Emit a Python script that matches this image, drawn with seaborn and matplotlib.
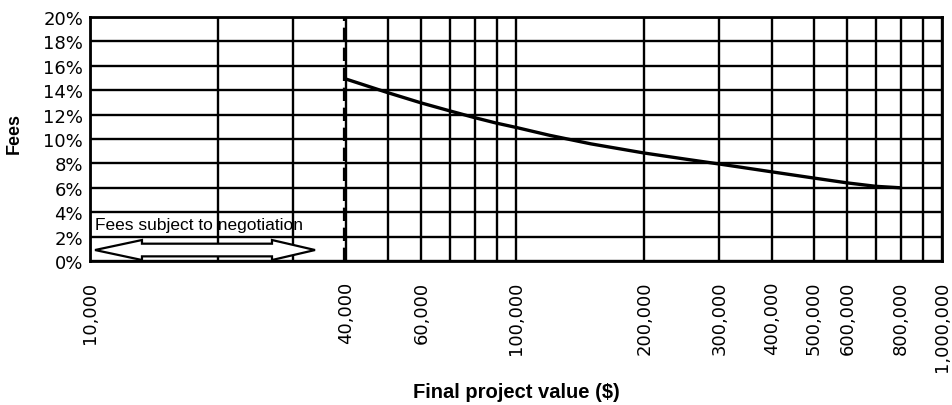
import numpy as np
import pandas as pd
import matplotlib
matplotlib.use("Agg")
import matplotlib.pyplot as plt
import matplotlib.patches as mpatches
from matplotlib.ticker import FixedLocator, FixedFormatter, NullFormatter
import seaborn as sns

# ---- data ----
project_value = [40000, 50000, 60000, 70000, 80000, 90000, 100000, 120000, 150000,
                 200000, 250000, 300000, 400000, 500000, 600000, 700000, 800000]
fee_pct = [14.9, 13.8, 12.95, 12.3, 11.75, 11.3, 10.95, 10.3, 9.6,
           8.85, 8.35, 7.95, 7.3, 6.8, 6.4, 6.12, 6.0]

x_tick_values = [10000, 40000, 60000, 100000, 200000, 300000, 400000,
                 500000, 600000, 800000, 1000000]
x_tick_labels = ["10,000", "40,000", "60,000", "100,000", "200,000", "300,000",
                 "400,000", "500,000", "600,000", "800,000", "1,000,000"]
x_grid_values = [20000, 30000, 40000, 50000, 60000, 70000, 80000, 90000,
                 200000, 300000, 400000, 500000, 600000, 700000, 800000, 900000]
y_tick_values = [0, 2, 4, 6, 8, 10, 12, 14, 16, 18, 20]
y_tick_labels = [f"{v}%" for v in y_tick_values]
negotiation_limit = 39400  # dashed boundary, drawn just left of 40,000
annotation_text = "Fees subject to negotiation"

df = pd.DataFrame({"value": project_value, "fee": fee_pct})

sns.set_style("white")
plt.rcParams["font.family"] = ["Liberation Sans", "DejaVu Sans"]
plt.rcParams["text.color"] = "black"
plt.rcParams["axes.labelcolor"] = "black"
plt.rcParams["xtick.color"] = "black"
plt.rcParams["ytick.color"] = "black"

fig = plt.figure(figsize=(9.53, 4.06), dpi=100)
ax = fig.add_axes([90 / 953, 1 - 262 / 406, 852 / 953, 244 / 406])

ax.set_xscale("log")
ax.set_xlim(10000, 1000000)
ax.set_ylim(0, 20)

# grid
ax.xaxis.set_major_locator(FixedLocator(x_tick_values))
ax.xaxis.set_major_formatter(FixedFormatter(x_tick_labels))
ax.xaxis.set_minor_locator(FixedLocator(x_grid_values))
ax.xaxis.set_minor_formatter(NullFormatter())
ax.set_yticks(y_tick_values)
ax.set_yticklabels(y_tick_labels)
ax.grid(True, which="both", axis="x", color="black", linewidth=1.7)
ax.grid(True, which="major", axis="y", color="black", linewidth=1.7)
ax.set_axisbelow(True)

sns.lineplot(data=df, x="value", y="fee", ax=ax, color="black", linewidth=2.4)

ax.axvline(negotiation_limit, color="black", linewidth=1.6, linestyle=(0, (6, 3)))

for s in ax.spines.values():
    s.set_visible(True)
    s.set_color("black")
    s.set_linewidth(2)

ax.tick_params(axis="both", which="both", length=0)
ax.tick_params(axis="x", pad=14)
ax.tick_params(axis="y", pad=5)
for lab in ax.get_xticklabels():
    lab.set_rotation(90)
    lab.set_fontfamily("DejaVu Sans")
    lab.set_fontsize(13)
    lab.set_color("black")
for lab in ax.get_yticklabels():
    lab.set_fontfamily("DejaVu Sans")
    lab.set_fontsize(13)
    lab.set_color("black")

ax.set_xlabel("Final project value ($)", fontsize=14.5, fontweight="bold", color="black")
ax.set_ylabel("Fees", fontsize=13, fontweight="bold", color="black")
ax.xaxis.set_label_coords(0.5, (262 - 383) / 244)
ax.yaxis.set_label_coords((23 - 90) / 852, (262 - 134) / 244)

# annotation text
ax.text(0.006, 3.0, annotation_text, transform=ax.get_yaxis_transform(),
        ha="left", va="center", fontsize=12.5, color="black")

# double-headed hollow arrow (axes fraction coordinates)
xl, xhl, xhr, xr = 0.0059, 0.061, 0.2136, 0.2641
yc = 0.045
bh, hh = 0.026, 0.041
arrow_pts = [(xl, yc), (xhl, yc + hh), (xhl, yc + bh), (xhr, yc + bh), (xhr, yc + hh),
             (xr, yc), (xhr, yc - hh), (xhr, yc - bh), (xhl, yc - bh), (xhl, yc - hh)]
ax.add_patch(mpatches.Polygon(arrow_pts, closed=True, transform=ax.transAxes,
                              facecolor="white", edgecolor="black", linewidth=1.6,
                              zorder=5))

fig.savefig("out.png", dpi=100)
